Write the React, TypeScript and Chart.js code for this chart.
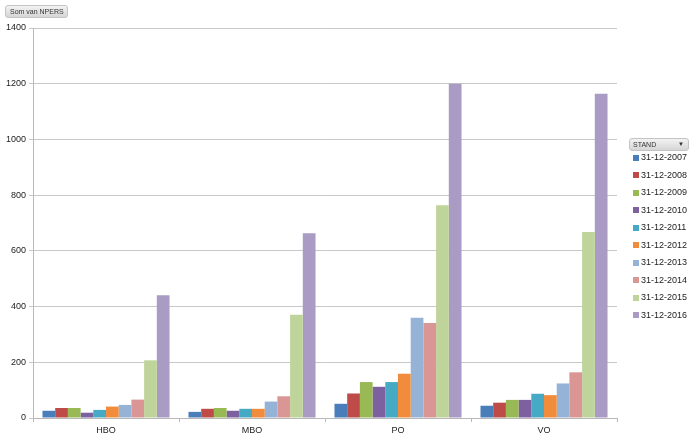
import React, { useEffect, useRef } from "react";
import { Chart, registerables } from "chart.js";

Chart.register(...registerables);

const categories = ["HBO", "MBO", "PO", "VO"];
const seriesLabels = [
  "31-12-2007", "31-12-2008", "31-12-2009", "31-12-2010", "31-12-2011",
  "31-12-2012", "31-12-2013", "31-12-2014", "31-12-2015", "31-12-2016",
];
const s2007 = [26, 22, 51, 44];
const s2008 = [36, 33, 88, 55];
const s2009 = [36, 36, 129, 65];
const s2010 = [19, 26, 112, 65];
const s2011 = [29, 33, 129, 87];
const s2012 = [41, 33, 159, 82];
const s2013 = [47, 59, 360, 124];
const s2014 = [66, 78, 341, 164];
const s2015 = [207, 371, 764, 668];
const s2016 = [441, 663, 1200, 1164];
const seriesValues = [s2007, s2008, s2009, s2010, s2011, s2012, s2013, s2014, s2015, s2016];
const colors = [
  "#4A7EBB", "#BE4B48", "#98B954", "#7D60A0", "#46AAC5",
  "#F08C3C", "#95B3D7", "#D99694", "#BFD49A", "#A99BC3",
];
const yMax = 1400;
const yStep = 200;

const FONT = "'Liberation Sans', Arial, sans-serif";

export default function App() {
  const ref = useRef<HTMLCanvasElement>(null);
  useEffect(() => {
    document.body.style.margin = "0";
    const ctx = ref.current!;
    const chart = new Chart(ctx, {
      type: "bar",
      data: {
        labels: categories,
        datasets: seriesValues.map((v, i) => ({
          label: seriesLabels[i],
          data: v,
          backgroundColor: colors[i],
          borderWidth: 0,
          barPercentage: 1,
          categoryPercentage: 0.87,
        })),
      },
      options: {
        animation: false,
        responsive: false,
        maintainAspectRatio: false,
        layout: { padding: { top: 28, right: 78, left: 0, bottom: 0 } },
        plugins: { legend: { display: false }, tooltip: { enabled: false } },
        scales: {
          x: {
            grid: {
              display: true,
              offset: true,
              drawOnChartArea: false,
              drawTicks: true,
              tickLength: 4,
              color: "#b8b8b8",
            },
            border: { color: "#b8b8b8" },
            ticks: { color: "#222", font: { family: FONT, size: 9 }, padding: 3 },
            afterFit: (s: any) => { s.height = 18; },
          },
          y: {
            min: 0,
            max: yMax,
            ticks: {
              stepSize: yStep,
              color: "#222",
              font: { family: FONT, size: 9 },
              padding: 3,
              callback: (v: any) => String(v),
            },
            grid: { color: "#c8c8c8", tickLength: 4 },
            border: { color: "#b8b8b8" },
            afterFit: (s: any) => { s.width = 33; },
          },
        },
      },
    });
    return () => chart.destroy();
  }, []);

  const btn: React.CSSProperties = {
    position: "absolute",
    background: "linear-gradient(#f2f2f2, #d6d6d6)",
    border: "1px solid #c4c4c4",
    borderRadius: 3,
    fontFamily: FONT,
    fontSize: 7,
    color: "#333",
    boxSizing: "border-box",
    lineHeight: "11px",
  };

  return (
    <div style={{ position: "relative", width: 695, height: 436, background: "#fff" }}>
      <canvas ref={ref} width={695} height={436} style={{ position: "absolute", left: 0, top: 0 }} />
      <div style={{ ...btn, left: 5, top: 5, width: 63, height: 13, paddingLeft: 4 }}>Som van NPERS</div>
      <div style={{ ...btn, left: 629, top: 138, width: 60, height: 13, paddingLeft: 3 }}>
        STAND<span style={{ position: "absolute", right: 4, top: 0, fontSize: 6 }}>▼</span>
      </div>
      {seriesLabels.map((l, i) => (
        <div
          key={l}
          style={{
            position: "absolute",
            left: 633,
            top: 152 + i * 17.5,
            fontFamily: FONT,
            fontSize: 9,
            color: "#222",
            display: "flex",
            alignItems: "center",
            whiteSpace: "nowrap",
            lineHeight: "11px",
          }}
        >
          <span style={{ display: "inline-block", width: 6, height: 6, background: colors[i], marginRight: 2 }} />
          {l}
        </div>
      ))}
    </div>
  );
}
